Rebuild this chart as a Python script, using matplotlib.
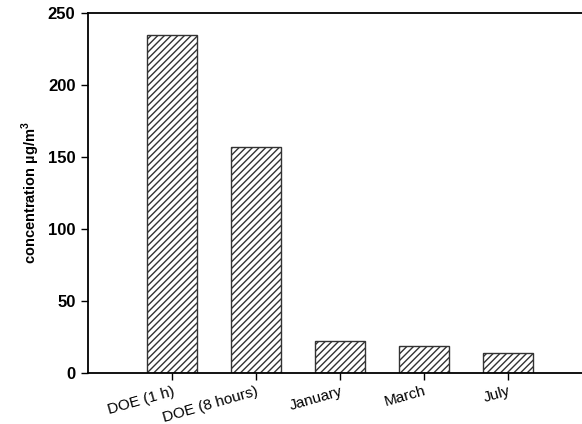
import matplotlib.pyplot as plt

# concentration data
categories = ["DOE (1 h)", "DOE (8 hours)", "January", "March", "July"]
concentration = [235, 157, 22.5, 18.5, 14]

plt.rcParams['font.family'] = ['Liberation Sans', 'DejaVu Sans']
plt.rcParams['mathtext.fontset'] = 'custom'
plt.rcParams['mathtext.bf'] = 'Liberation Sans:bold'
plt.rcParams['hatch.linewidth'] = 1.0

fig = plt.figure(figsize=(5.82, 4.24), dpi=100)
ax = fig.add_axes([88 / 582, 1 - 373 / 424, 1 - 88 / 582, 360 / 424])

x = range(len(categories))
ax.bar(x, concentration, width=0.6, color="white", edgecolor="#333333",
       linewidth=1.0, hatch="/////", zorder=2)

ax.set_xlim(-1, 4.88)
ax.set_ylim(0, 250)
ax.set_yticks([0, 50, 100, 150, 200, 250])
ax.set_xticks(list(x))
ax.set_xticklabels(categories, rotation=16, ha="right", fontsize=11,
                   rotation_mode="anchor")
for lbl in ax.get_yticklabels():
    lbl.set_fontweight("bold")
    lbl.set_fontsize(12)

ax.spines["right"].set_visible(False)
for s in ("left", "bottom", "top"):
    ax.spines[s].set_linewidth(1.3)
ax.tick_params(axis="both", direction="out", length=5, width=1)
ax.tick_params(axis="x", pad=3)
ax.tick_params(axis="y", pad=4)

ax.set_ylabel(r"concentration µg/m$^\mathbf{3}$", fontsize=10.5, fontweight="bold",
              labelpad=4)

fig.savefig("out.png", dpi=100)
